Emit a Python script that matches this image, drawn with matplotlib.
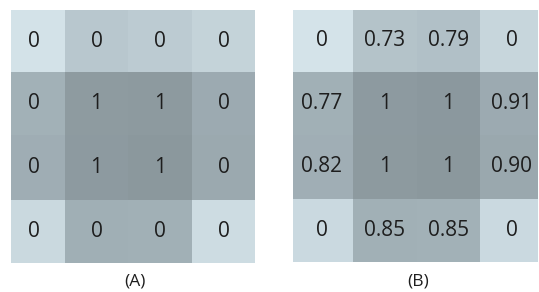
import numpy as np
import matplotlib.pyplot as plt
from matplotlib.colors import LinearSegmentedColormap

# -----------------------------
# data
# -----------------------------
labels_a = [["0", "0", "0", "0"],
            ["0", "1", "1", "0"],
            ["0", "1", "1", "0"],
            ["0", "0", "0", "0"]]

labels_b = [["0", "0.73", "0.79", "0"],
            ["0.77", "1", "1", "0.91"],
            ["0.82", "1", "1", "0.90"],
            ["0", "0.85", "0.85", "0"]]

# cell lightness (0 = darkest, 1 = lightest)
shade_a = [[0.99, 0.68, 0.73, 0.82],
           [0.40, 0.05, 0.03, 0.30],
           [0.34, 0.04, 0.00, 0.27],
           [0.88, 0.37, 0.38, 0.92]]

shade_b = [[1.00, 0.63, 0.60, 0.85],
           [0.38, 0.04, 0.01, 0.30],
           [0.36, 0.03, 0.00, 0.25],
           [0.89, 0.38, 0.40, 0.89]]

panel_titles = ["(A)", "(B)"]

# -----------------------------
# figure
# -----------------------------
cmap = LinearSegmentedColormap.from_list("bluegray", ["#8b989d", "#a8b7be", "#d4e3e9"])

plt.rcParams["font.family"] = ["Open Sans", "DejaVu Sans"]
fig = plt.figure(figsize=(5.39, 2.92), dpi=100)

# pixel-based layout: axes rect, column edges, visible x range
panels = [
    dict(rect=[11, 10, 244, 253], xedges=[-9, 54, 117, 181, 244], xlim=(0, 244),
         labels=labels_a, shade=shade_a, title_x=135),
    dict(rect=[293, 10, 245, 252], xedges=[-3, 60, 124, 187, 250], xlim=(0, 245),
         labels=labels_b, shade=shade_b, title_x=418),
]
W, H = 539, 292
yedges = np.array([0, 62, 125, 190, 253])

for p, title in zip(panels, panel_titles):
    x0, y0, w, h = p["rect"]
    ax = fig.add_axes([x0 / W, 1 - (y0 + h) / H, w / W, h / H])
    xe = np.array(p["xedges"])
    ye = yedges * h / 253
    ax.pcolormesh(xe, ye, np.array(p["shade"]), cmap=cmap, vmin=0, vmax=1)
    xc = (xe[:-1] + xe[1:]) / 2
    yc = (ye[:-1] + ye[1:]) / 2
    for i in range(4):
        for j in range(4):
            ax.text(xc[j], yc[i], p["labels"][i][j], ha="center", va="center",
                    fontsize=15, color="#1e1e1e")
    ax.set_xlim(*p["xlim"])
    ax.set_ylim(h, 0)
    ax.axis("off")
    fig.text(p["title_x"] / W, 1 - 281 / H, title, ha="center", va="center",
             fontsize=12.5, color="#1e1e1e")

plt.savefig("out.png", dpi=100)
